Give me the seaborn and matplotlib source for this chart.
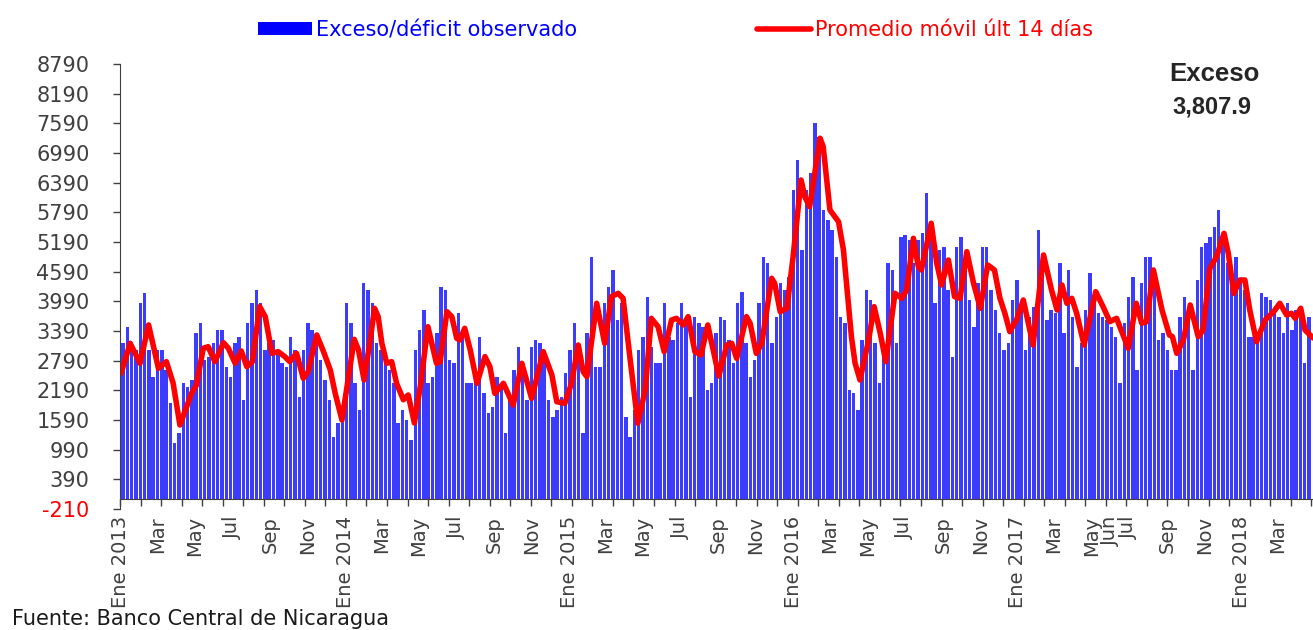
import matplotlib
matplotlib.use('Agg')
import numpy as np
import pandas as pd
import matplotlib.pyplot as plt
from matplotlib.patches import Patch
from matplotlib.lines import Line2D
import seaborn as sns

start = pd.Timestamp('2013-01-01')

# exceso/deficit observado, one bar per week from 1 Jan 2013
bar_vals = [
    3141, 3478, 3141, 3006, 3950, 4150, 3006, 2466, 3006, 3006,
    2601, 1927, 1118, 1320, 2332, 2264, 2399, 3343, 3545, 2804,
    2871, 3141, 3410, 3410, 2669, 2466, 3141, 3275, 1995, 3545,
    3950, 4220, 3950, 3006, 3141, 3208, 3006, 2737, 2669, 3275,
    3006, 2062, 3006, 3545, 3410, 3208, 2804, 2399, 1995, 1253,
    1522, 1792, 3950, 3545, 2332, 1792, 4355, 4220, 3950, 3141,
    3006, 2871, 2601, 2332, 1522, 1792, 1590, 1185, 3006, 3410,
    3815, 2332, 2466, 3343, 4287, 4220, 2804, 2737, 3748, 3410,
    2332, 2332, 2332, 3275, 2129, 1725, 1860, 2466, 2332, 1320,
    1995, 2601, 3073, 2601, 1995, 3073, 3208, 3141, 2804, 1995,
    1657, 1792, 2062, 2534, 3006, 3545, 3006, 1320, 3343, 4893,
    2669, 2669, 3950, 4287, 4624, 3613, 3950, 1657, 1253, 1792,
    3006, 3275, 4085, 3073, 2737, 2737, 3950, 3275, 3208, 3545,
    3950, 3545, 2062, 3680, 3545, 3478, 2197, 2332, 3343, 3680,
    3613, 3208, 2737, 3950, 4186, 3141, 2466, 2804, 3950, 4893,
    4760, 3141, 3680, 4355, 4220, 4490, 6242, 6849, 5029, 6242,
    6579, 7591, 7322, 5838, 5635, 5433, 4893, 3680, 3545, 2197,
    2129, 1792, 3208, 4220, 4017, 3141, 2332, 3006, 4760, 4624,
    3141, 5298, 5332, 5231, 4760, 5231, 5366, 6175, 5568, 3950,
    5029, 5096, 4220, 2871, 5096, 5298, 4760, 4017, 3478, 4355,
    5096, 5096, 4220, 3815, 3343, 3006, 3141, 4017, 4422, 3815,
    3006, 3680, 3882, 5433, 4893, 3613, 3815, 3748, 4760, 3343,
    4624, 3680, 2669, 3141, 3815, 4558, 4085, 3748, 3680, 3613,
    3478, 3275, 2332, 3545, 4085, 4490, 2601, 4355, 4893, 4893,
    4355, 3208, 3343, 3006, 2601, 2601, 3680, 4085, 3815, 2601,
    4422, 5096, 5164, 5298, 5500, 5838, 5298, 4760, 4287, 4893,
    4422, 4220, 3275, 3275, 3343, 4152, 4085, 4017, 3748, 3680,
    3343, 3950, 3410, 3815, 3680, 2737, 3680,
]

# promedio movil 14 dias: days since 1 Jan 2013 and value
avg_days = [
    0, 15, 31, 45, 61, 74, 85, 96, 115, 123,
    134, 142, 153, 167, 175, 186, 196, 205, 214, 226,
    235, 246, 256, 267, 275, 286, 297, 305, 319, 330,
    341, 349, 360, 370, 380, 387, 396, 406, 413, 419,
    425, 433, 441, 449, 460, 468, 478, 488, 500, 514,
    520, 531, 539, 547, 552, 560, 569, 580, 593, 601,
    609, 623, 639, 653, 669, 688, 702, 710, 723, 734,
    745, 753, 759, 775, 788, 799, 810, 818, 829, 842,
    854, 864, 875, 885, 897, 905, 916, 924, 935, 945,
    956, 974, 987, 995, 1003, 1019, 1025, 1035, 1044, 1060,
    1065, 1074, 1085, 1095, 1108, 1114, 1122, 1139, 1144, 1155,
    1169, 1177, 1190, 1196, 1204, 1218, 1227, 1237, 1246, 1261,
    1272, 1280, 1291, 1299, 1304, 1320, 1329, 1337, 1348, 1358,
    1367, 1378, 1389, 1400, 1412, 1423, 1432, 1440, 1448, 1459,
    1470, 1486, 1503, 1516, 1525, 1533, 1541, 1549, 1557, 1569,
    1588, 1600, 1611, 1622, 1641, 1654, 1663, 1671, 1682, 1696,
    1708, 1713, 1720, 1731, 1742, 1755, 1763, 1774, 1785, 1797,
    1804, 1813, 1823, 1831, 1839, 1850, 1864, 1878, 1888, 1899,
    1907, 1913, 1922, 1929, 1942,
]
avg_vals = [
    2534, 3141, 2737, 3512, 2635, 2770, 2332, 1489, 2129, 2298,
    3040, 3073, 2770, 3154, 3040, 2737, 2986, 2669, 2770, 3882,
    3680, 2939, 2972, 2871, 2770, 2939, 2433, 2568, 3309, 2972,
    2601, 2129, 1590, 2399, 3222, 3006, 2399, 3208, 3849, 3680,
    3141, 2737, 2770, 2332, 2000, 2096, 1530, 2300, 3478, 2737,
    2770, 3781, 3680, 3242, 3208, 3444, 3006, 2332, 2871, 2669,
    2129, 2332, 1894, 2737, 2028, 2972, 2500, 1960, 1927, 2332,
    3107, 2568, 2466, 3950, 3141, 4085, 4152, 4051, 2871, 1523,
    2197, 3646, 3478, 2972, 3613, 3646, 3512, 3680, 2972, 2905,
    3512, 2480, 3107, 3141, 2838, 3680, 3545, 2939, 3141, 4456,
    4355, 3781, 3849, 4893, 6444, 6107, 5905, 7288, 7118, 5838,
    5601, 5029, 3275, 2737, 2399, 3208, 3882, 3343, 2770, 4152,
    4051, 4220, 5265, 4691, 4624, 5569, 4760, 4321, 4826, 4085,
    4051, 4995, 4355, 3849, 4725, 4624, 4051, 3748, 3377, 3613,
    4017, 3107, 4928, 4220, 3815, 4321, 3950, 4051, 3748, 3107,
    4186, 3882, 3579, 3646, 3040, 3950, 3545, 3579, 4624, 3815,
    3309, 3275, 2939, 3208, 3916, 3275, 3410, 4658, 4893, 5366,
    4962, 4152, 4422, 4422, 3815, 3174, 3613, 3781, 3950, 3714,
    3748, 3646, 3849, 3410, 3250,
]

month_dates = [
    '2013-01-01', '2013-03-01', '2013-05-01', '2013-07-01', '2013-09-01', '2013-11-01',
    '2014-01-01', '2014-03-01', '2014-05-01', '2014-07-01', '2014-09-01', '2014-11-01',
    '2015-01-01', '2015-03-01', '2015-05-01', '2015-07-01', '2015-09-01', '2015-11-01',
    '2016-01-01', '2016-03-01', '2016-05-01', '2016-07-01', '2016-09-01', '2016-11-01',
    '2017-01-01', '2017-03-01', '2017-05-01', '2017-06-01', '2017-07-01', '2017-09-01',
    '2017-11-01', '2018-01-01', '2018-03-01',
]
month_labels = [
    'Ene 2013', 'Mar', 'May', 'Jul', 'Sep', 'Nov',
    'Ene 2014', 'Mar', 'May', 'Jul', 'Sep', 'Nov',
    'Ene 2015', 'Mar', 'May', 'Jul', 'Sep', 'Nov',
    'Ene 2016', 'Mar', 'May', 'Jul', 'Sep', 'Nov',
    'Ene 2017', 'Mar', 'May', 'Jun', 'Jul', 'Sep',
    'Nov', 'Ene 2018', 'Mar',
]
y_ticks = list(range(-210, 8791, 600))

sns.set_style('ticks')
plt.rcParams['font.family'] = ['DejaVu Sans']

week_start = pd.date_range(start, periods=len(bar_vals), freq='7D')
bar_x = (week_start - start).days.to_numpy() + 3.5
month_x = [(pd.Timestamp(d) - start).days for d in month_dates]

fig = plt.figure(figsize=(13.13, 6.3), dpi=100)
ax = fig.add_axes([120 / 1313, 1 - 509 / 630, 1193 / 1313, 445 / 630])

sns.barplot(x=bar_x, y=bar_vals, native_scale=True, width=0.8, color='#3c3cff',
            saturation=1, errorbar=None, linewidth=0, edgecolor='none', ax=ax)
sns.lineplot(x=avg_days, y=avg_vals, color='#ff0000', linewidth=4, ax=ax,
             solid_joinstyle='round', solid_capstyle='round')

ax.set_xlim(-1.6, 1942)
ax.set_ylim(-210, 8790)
ax.set_xlabel('')
ax.set_ylabel('')

gray = '#404040'
for s in ['top', 'right']:
    ax.spines[s].set_visible(False)
ax.spines['bottom'].set_position(('data', 0))
ax.spines['left'].set_color(gray)
ax.spines['bottom'].set_color(gray)

ax.set_yticks(y_ticks)
ax.set_yticklabels([str(v) for v in y_ticks])
ax.tick_params(axis='y', length=5, width=1, color=gray, labelcolor=gray,
               labelsize=15, pad=17)
ax.get_yticklabels()[0].set_color('red')

ax.set_xticks(month_x)
ax.set_xticklabels(month_labels, rotation=90)
ax.tick_params(axis='x', which='major', length=0, labelsize=14, labelcolor=gray, pad=12.5)
ax.set_xticks(np.arange(-1.6, 1942, 33.46), minor=True)
ax.tick_params(axis='x', which='minor', length=5, width=1, color=gray, direction='out')

handles = [Patch(facecolor='#0000ff', edgecolor='none'),
           Line2D([0], [0], color='#ff0000', linewidth=4, solid_capstyle='round')]
fig.legend(handles, ['Exceso/déficit observado', 'Promedio móvil últ 14 días'],
           loc='center left', bbox_to_anchor=(258 / 1313, 1 - 30 / 630), ncol=2,
           frameon=False, fontsize=15, handlelength=2.6, handleheight=0.55,
           handletextpad=0.2, columnspacing=8.6, borderpad=0, borderaxespad=0,
           labelcolor=['#0000ff', '#ff0000'])

fig.text(1214 / 1313, 1 - 74 / 630, 'Exceso', ha='center', va='center',
         fontsize=18.5, fontweight='bold', family='Liberation Sans')
fig.text(1212 / 1313, 1 - 107 / 630, '3,807.9', ha='center', va='center',
         fontsize=17, fontweight='bold', family='Liberation Sans')
fig.text(12 / 1313, 1 - 625 / 630, 'Fuente: Banco Central de Nicaragua', va='baseline',
         fontsize=15, color='#1a1a1a')

fig.savefig('out.png', dpi=100)
